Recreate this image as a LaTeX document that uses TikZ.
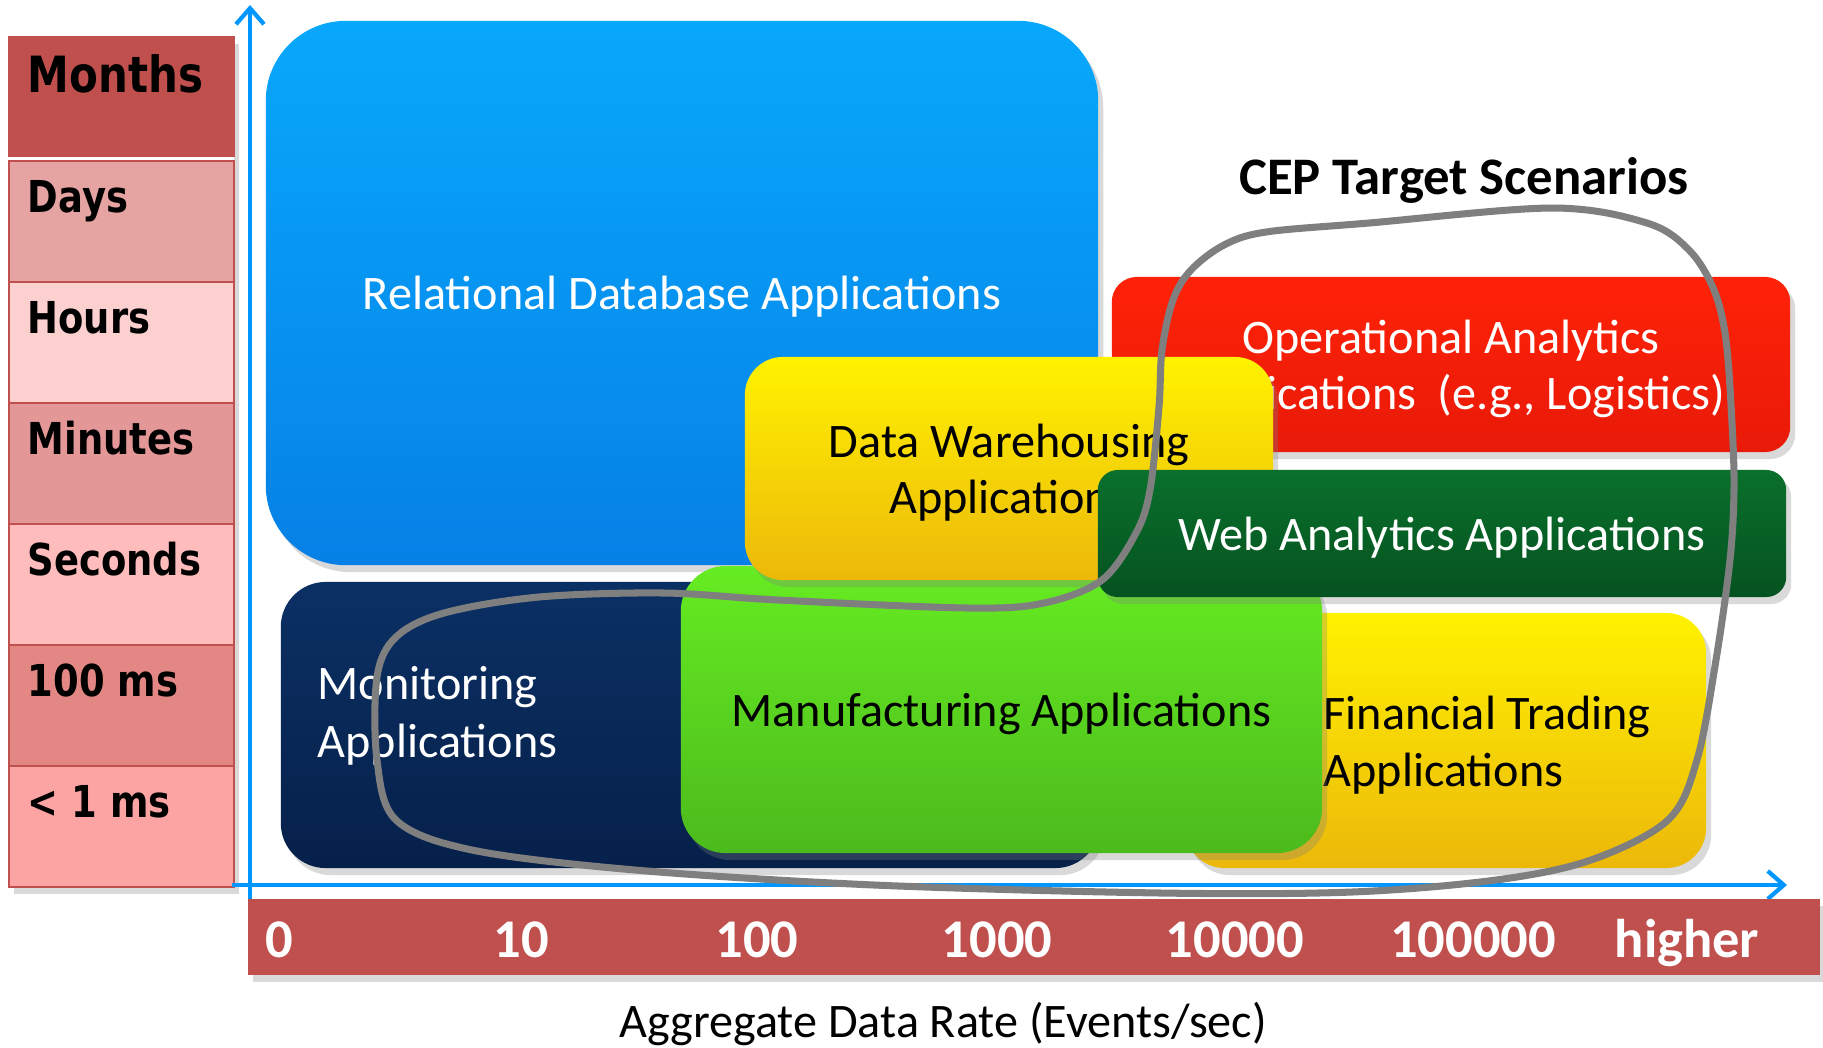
\documentclass[tikz,border=0pt]{standalone}
\usepackage{fontspec}
\setmainfont{Carlito}
\newfontfamily\timefont{DejaVu Sans}[FakeStretch=0.84]
\usepackage{xcolor}
\usepackage{tikz}
\usetikzlibrary{arrows.meta,shadows,positioning}
\definecolor{AxisBlue}{RGB}{0,150,255}
\definecolor{SlideRed}{RGB}{192,80,77}
\definecolor{DaysRed}{RGB}{229,163,161}
\definecolor{HoursRed}{RGB}{253,208,208}
\definecolor{MinutesRed}{RGB}{227,151,150}
\definecolor{SecondsRed}{RGB}{254,188,188}
\definecolor{HundredRed}{RGB}{227,135,132}
\definecolor{MilliRed}{RGB}{252,163,163}
\definecolor{RDBTop}{RGB}{8,168,252}
\definecolor{RDBBot}{RGB}{6,128,230}
\definecolor{OpsTop}{RGB}{255,34,8}
\definecolor{OpsBot}{RGB}{232,26,8}
\definecolor{YellowTop}{RGB}{255,242,0}
\definecolor{YellowBot}{RGB}{236,184,10}
\definecolor{WebTop}{RGB}{10,112,44}
\definecolor{WebBot}{RGB}{5,82,32}
\definecolor{MonTop}{RGB}{11,48,100}
\definecolor{MonBot}{RGB}{6,32,74}
\definecolor{ManTop}{RGB}{102,236,34}
\definecolor{ManBot}{RGB}{76,186,28}
\definecolor{LoopGray}{RGB}{127,127,127}

\begin{document}
\begin{tikzpicture}[x=0.01cm, y=-0.01cm,
       axis/.style={AxisBlue, line width=1.2pt, -{Straight Barb[length=1.6mm,width=2.8mm]}},
       softshadow/.style={drop shadow={shadow xshift=0.5mm, shadow yshift=-0.7mm, opacity=0.3}},
       appbox/.style 2 args={rectangle, rounded corners=#1, draw=none,
                             top color=#2Top, bottom color=#2Bot,
                             inner sep=0pt, align=center, softshadow, text depth=0pt,
                             font=\fontsize{13.7}{16}\selectfont},
       apptext/.style={inner sep=0pt, align=left, font=\fontsize{13.7}{16.4}\selectfont},
       timecell/.style={rectangle, anchor=north west, draw=SlideRed, line width=0.5pt,
                        minimum width=2.25cm, minimum height=1.21cm, inner sep=0pt},
       timetext/.style={anchor=base west, inner sep=0pt,
                        font=\timefont\bfseries\fontsize{12.5}{15}\selectfont},
       ratelabel/.style={anchor=base, inner sep=0pt, text=white,
                         font=\bfseries\fontsize{15.5}{18}\selectfont}]
    \useasboundingbox (0,0) rectangle (1823,1047);

    %% Time scale column on the left
    \node[rectangle, fill=white, anchor=north west, inner sep=0pt, softshadow,
          minimum width=2.25cm, minimum height=8.5cm] (timecol) at (8,36) {};
    \node[timecell, fill=SlideRed, minimum height=1.19cm] (months) at (8,36) {};
    \node[timetext, font=\timefont\bfseries\fontsize{14.2}{17}\selectfont] (monthslbl) at (27,92) {Months};
    \foreach \lbl/\col/\y [count=\i] in {Days/DaysRed/160, Hours/HoursRed/281,
            Minutes/MinutesRed/402, Seconds/SecondsRed/523,
            {100 ms}/HundredRed/644, {< 1 ms}/MilliRed/765}
        {\node[timecell, fill=\col] (cell\i) at (8,\y) {};
         \node[timetext] (lbl\i) at (27,\y+52) {\lbl};}

    %% Axes
    \coordinate (ybase) at (250,900);
    \coordinate (ytip) at (250,5);
    \coordinate (xbase) at (232,885);
    \coordinate (xtip) at (1787,885);
    \draw[axis] (ybase) -- (ytip);
    \draw[axis] (xbase) -- (xtip);

    %% Data rate bar
    \node[rectangle, fill=SlideRed, inner sep=0pt, softshadow,
          minimum width=15.72cm, minimum height=0.76cm] (ratebar) at (1034,937) {};
    \foreach \v/\x in {0/279, 10/521, 100/757, 1000/997, 10000/1235, 100000/1473, higher/1687}
        \node[ratelabel] (rate\v) at (\x,957) {\v};

    %% Application areas, back to front
    \node[appbox={0.8cm}{RDB}, text=white, minimum width=8.32cm, minimum height=5.44cm]
        (rdb) at (682,293) {Relational Database Applications};
    \node[appbox={0.25cm}{Ops}, text=white, minimum width=6.78cm, minimum height=1.75cm]
        (ops) at (1451,364.5) {Operational Analytics\\Applications\ \ (e.g., Logistics)};
    \node[appbox={0.45cm}{Mon}, minimum width=8.19cm, minimum height=2.86cm] (mon) at (690.5,725) {};
    \node[apptext, text=white, anchor=west] (montext) at (317,716) {Monitoring\\Applications};
    \node[appbox={0.4cm}{Yellow}, minimum width=5.21cm, minimum height=2.55cm] (fin) at (1445.5,740.5) {};
    \node[apptext, anchor=west] (fintext) at (1323,745) {Financial Trading\\Applications};
    \node[appbox={0.45cm}{Man}, minimum width=6.41cm, minimum height=2.87cm]
        (man) at (1001.5,709.5) {Manufacturing Applications};
    \node[appbox={0.38cm}{Yellow}, minimum width=5.28cm, minimum height=2.23cm]
        (dwh) at (1009,468.5) {Data Warehousing\\Applications};
    \node[appbox={0.2cm}{Web}, text=white, minimum width=6.88cm, minimum height=1.27cm]
        (web) at (1442,533.5) {Web Analytics Applications};

    %% CEP target loop
    \draw[LoopGray, line width=2pt] plot[smooth cycle, tension=0.55] coordinates {
        (1552,208) (1647,223) (1689,250) (1714,290) (1726,340) (1732,423) (1734,490)
        (1730,560) (1716,660) (1697,760) (1668,820) (1591,860) (1496,880) (1352,892)
        (1161,893) (874,885) (635,870) (472,850) (396,820) (377,760) (377,677)
        (396,637) (444,613) (539,597) (664,593) (778,600) (968,608) (1044,603)
        (1102,580) (1136,533) (1150,490) (1159,407) (1162,350) (1173,300) (1191,270)
        (1224,245) (1266,232) (1369,223)};
    \node[anchor=base, inner sep=0pt, font=\bfseries\fontsize{15}{18}\selectfont]
        (ceptitle) at (1464,194) {CEP Target Scenarios};

    %% Axis caption
    \node[anchor=base, inner sep=0pt, font=\fontsize{13.7}{16}\selectfont]
        (ratecaption) at (943,1037) {Aggregate Data Rate (Events/sec)};
\end{tikzpicture}
\end{document}
